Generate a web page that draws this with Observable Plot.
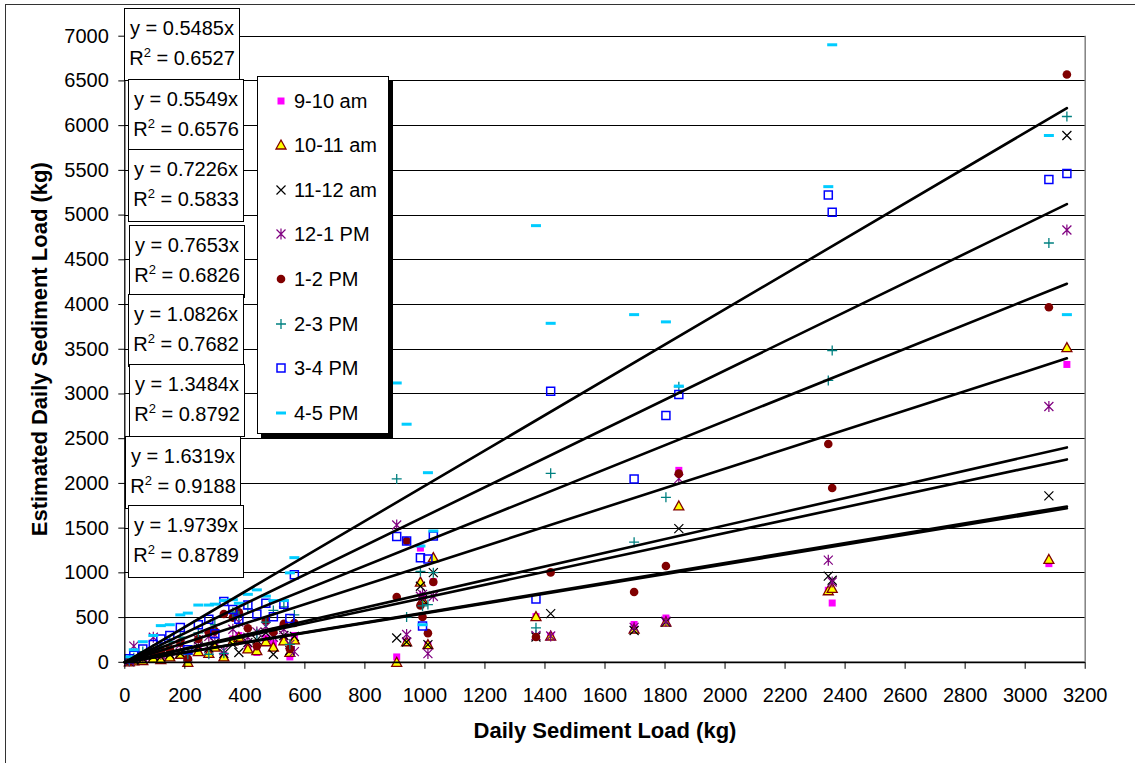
<!DOCTYPE html>
<html><head><meta charset="utf-8">
<script src="https://cdn.jsdelivr.net/npm/d3@7"></script>
<script src="https://cdn.jsdelivr.net/npm/@observablehq/plot@0.6"></script>
<style>
body{margin:0;background:#fff;font-family:"Liberation Sans",Arial,sans-serif;color:#000;}
#wrap{position:relative;width:1135px;height:763px;overflow:hidden;background:#fff;}
#wrap svg.plot{position:absolute;left:0;top:0;}
.chartframe{position:absolute;left:5px;top:4px;width:1200px;height:800px;border-left:1.5px solid #333;border-top:1.5px solid #333;}
.eq{position:absolute;width:114px;height:67px;border:1px solid #000;background:#fff;font-size:20px;text-align:center;line-height:30px;padding-top:4px;box-sizing:content-box;}
.eq div{height:30px;white-space:nowrap;}
.eq sup{font-size:13px;vertical-align:8px;line-height:0;}
.legend{position:absolute;left:257px;top:76px;width:130px;height:356px;border:1px solid #000;background:#fff;box-shadow:4px 4px 0 #000;}
.lg{position:absolute;left:0;height:30px;width:130px;font-size:20px;line-height:30px;white-space:nowrap;}
.lg svg{position:absolute;left:13px;top:5px;}
.lg span{position:absolute;left:36px;top:0;}
</style></head><body><div id="wrap"><div class="chartframe"></div></div>
<script>
// ---------- data ----------
const seriesNames = ["9-10 am","10-11 am","11-12 am","12-1 PM","1-2 PM","2-3 PM","3-4 PM","4-5 PM"];
const dailyLoad = [15,30,60,95,120,150,185,210,245,280,300,330,360,380,410,440,470,495,530,550,565,
  906,939,985,992,1010,1028,1370,1419,1697,1803,1846,2344,2357,3079,3139];
const est_9_10am  = [10,20,30,60,40,80,110,30,150,130,200,80,260,300,160,110,270,210,270,60,300,
  60,227,1277,740,197,900,511,294,423,495,2146,805,663,1103,3330];
const est_10_11am = [5,15,20,45,30,60,90,0,120,100,170,60,240,280,150,130,230,170,240,110,250,
  0,230,897,700,197,1170,511,294,370,450,1748,800,827,1150,3518];
const est_11_12am = [8,25,40,70,60,90,100,60,180,160,220,100,200,110,220,250,330,90,300,130,290,
  272,227,850,700,197,1002,283,544,356,450,1494,963,917,1860,5890];
const est_12_1pm  = [15,180,60,280,90,140,200,80,250,290,310,130,370,450,280,340,400,280,370,200,120,
  1535,311,738,760,97,738,300,294,390,460,2053,1142,898,2860,4833];
const est_1_2pm   = [12,30,70,110,130,150,220,40,260,330,350,540,500,560,380,180,470,340,430,150,440,
  730,1356,635,506,326,897,283,1005,786,1076,2109,2440,1949,3969,6572];
const est_2_3pm   = [20,50,120,150,180,230,280,90,330,90,420,100,560,520,600,320,450,580,620,200,530,
  2050,506,1016,630,645,1002,386,2113,1343,1845,3080,3151,3486,4688,6102];
const est_3_4pm   = [40,80,150,200,260,300,390,140,420,480,320,680,590,480,640,540,660,510,650,490,980,
  1407,1356,1169,405,1155,1412,708,3030,2050,2760,2994,5224,5031,5397,5464];
const est_4_5pm   = [60,140,230,300,410,420,530,550,640,640,650,690,700,660,760,810,740,690,690,1000,1170,
  3123,2662,1300,420,2120,1468,4882,3790,3887,3806,3088,5318,6904,5890,3887];
const trendSlopes = [0.5485,0.5549,0.7226,0.7653,1.0826,1.3484,1.6319,1.9739];
const trendR2     = ["0.6527","0.6576","0.5833","0.6826","0.7682","0.8792","0.9188","0.8789"];
const xTicks = [0,200,400,600,800,1000,1200,1400,1600,1800,2000,2200,2400,2600,2800,3000,3200];
const yTicks = [0,500,1000,1500,2000,2500,3000,3500,4000,4500,5000,5500,6000,6500,7000];
const xTitle = "Daily Sediment Load (kg)";
const yTitle = "Estimated Daily Sediment Load (kg)";

// ---------- styling ----------
const seriesValues = [est_9_10am,est_10_11am,est_11_12am,est_12_1pm,est_1_2pm,est_2_3pm,est_3_4pm,est_4_5pm];
const sym = {
  square:{draw(c){c.rect(-3.5,-3.5,7,7);}},
  triangle:{draw(c){c.moveTo(0,-5);c.lineTo(5,4);c.lineTo(-5,4);c.closePath();}},
  times:{draw(c){c.moveTo(-4.5,-4.5);c.lineTo(4.5,4.5);c.moveTo(4.5,-4.5);c.lineTo(-4.5,4.5);}},
  asterisk:{draw(c){c.moveTo(-4.5,-4.5);c.lineTo(4.5,4.5);c.moveTo(4.5,-4.5);c.lineTo(-4.5,4.5);c.moveTo(0,-5.5);c.lineTo(0,5.5);}},
  circle:{draw(c){c.moveTo(4.3,0);c.arc(0,0,4.3,0,2*Math.PI);}},
  plus:{draw(c){c.moveTo(-5,0);c.lineTo(5,0);c.moveTo(0,-5);c.lineTo(0,5);}},
  openSquare:{draw(c){c.rect(-4,-4,8,8);}},
  dash:{draw(c){c.rect(-5,-1.5,10,3);}}
};
const seriesStyle = [
  {symbol:sym.square, fill:"#FF00FF", stroke:"none", sw:0},
  {symbol:sym.triangle, fill:"#FFFF00", stroke:"#800000", sw:1.3},
  {symbol:sym.times, fill:"none", stroke:"#000000", sw:1.2},
  {symbol:sym.asterisk, fill:"none", stroke:"#800080", sw:1.2},
  {symbol:sym.circle, fill:"#800000", stroke:"none", sw:0},
  {symbol:sym.plus, fill:"none", stroke:"#008080", sw:1.3},
  {symbol:sym.openSquare, fill:"none", stroke:"#0000FF", sw:1.5},
  {symbol:sym.dash, fill:"#00CCFF", stroke:"none", sw:0}
];

const xMax = d3.max(dailyLoad);
const dotMarks = seriesValues.map((vals,k) => {
  const rows = dailyLoad.map((x,i) => ({x, y: vals[i]}));
  const st = seriesStyle[k];
  return Plot.dot(rows, {x:"x", y:"y", symbol: st.symbol, r: 4, fill: st.fill, stroke: st.stroke, strokeWidth: st.sw});
});
const trendRows = trendSlopes.flatMap((m,k) => [{x:0, y:0, k}, {x:xMax, y:m*xMax, k}]);

const chart = Plot.plot({
  width: 1135, height: 763,
  marginLeft: 124.3, marginRight: 50.3, marginTop: 35.7, marginBottom: 101.2,
  x: {domain:[0,3200]},
  y: {domain:[0,7000]},
  style: {fontFamily:"'Liberation Sans', Arial, sans-serif", fontSize:"20px", color:"#000", background:"transparent", overflow:"visible"},
  marks: [
    Plot.ruleY(yTicks, {stroke:"#000", strokeWidth:1, shapeRendering:"crispEdges"}),
    Plot.ruleX([3200], {stroke:"#808080", strokeWidth:1.5}),
    ...dotMarks,
    Plot.line(trendRows, {x:"x", y:"y", z:"k", stroke:"#000", strokeWidth:2.6}),
    Plot.ruleX([0], {stroke:"#000", strokeWidth:1.3}),
    Plot.ruleY([0], {stroke:"#000", strokeWidth:1.8}),
    Plot.axisY({ticks: yTicks, tickSize:6, tickPadding:10, tickFormat:d=>String(d), label:null, fontSize:20}),
    Plot.axisX({ticks: xTicks, tickSize:7, tickPadding:18, tickFormat:d=>String(d), label:null, fontSize:20}),
    Plot.text([yTitle], {frameAnchor:"left", dx:-85, rotate:-90, text:d=>d, fontWeight:"bold", fontSize:22, lineAnchor:"middle", textAnchor:"middle"}),
    Plot.text([xTitle], {frameAnchor:"bottom", dy:69, text:d=>d, fontWeight:"bold", fontSize:22, lineAnchor:"middle", textAnchor:"middle"})
  ]
});
chart.classList.add("plot");
const wrap = document.getElementById("wrap");
wrap.appendChild(chart);

// equation boxes (layout)
const boxPos = [[124,8],[128,79],[128,149],[129,225],[128,294],[129,364],[125,436],[128,505]];
trendSlopes.forEach((m,k) => {
  const b = document.createElement("div");
  b.className = "eq";
  b.style.left = boxPos[k][0] + "px";
  b.style.top = boxPos[k][1] + "px";
  b.innerHTML = `<div>y = ${m.toFixed(4)}x</div><div>R<sup>2</sup> = ${trendR2[k]}</div>`;
  wrap.appendChild(b);
});

// legend
const lg = document.createElement("div");
lg.className = "legend";
seriesNames.forEach((name,k) => {
  const row = document.createElement("div");
  row.className = "lg";
  row.style.top = (8.5 + k*44.6) + "px";
  const st = seriesStyle[k];
  const p = d3.path(); st.symbol.draw(p);
  row.innerHTML = `<svg width="20" height="20" viewBox="-10 -10 20 20"><path d="${p.toString()}" fill="${st.fill}" stroke="${st.stroke}" stroke-width="${st.sw}"/></svg><span>${name}</span>`;
  lg.appendChild(row);
});
wrap.appendChild(lg);
</script></body></html>
